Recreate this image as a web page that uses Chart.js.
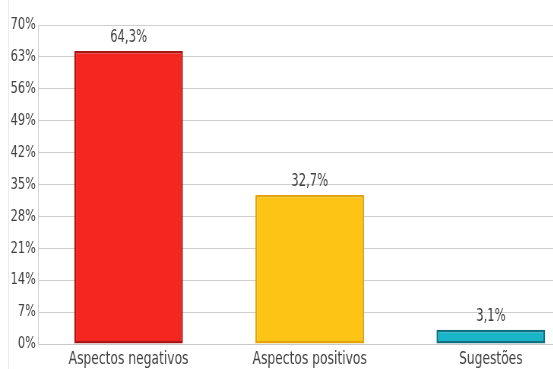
<!DOCTYPE html>
<html>
<head>
<meta charset="utf-8">
<script src="https://cdn.jsdelivr.net/npm/chart.js@4"></script>
<style>
    html, body { margin: 0; padding: 0; background: #fff; overflow: hidden; }
    #wrap { position: relative; width: 553px; height: 369px; overflow: hidden; }
    #edge { position: absolute; left: 8px; top: 0; width: 1px; height: 369px; background: #ececec; }
    /* the reference text is horizontally condensed, so the whole canvas is squeezed */
    #chart { transform: scaleX(0.76); transform-origin: 0 0; }
</style>
</head>
<body>
<div id="wrap"><div id="edge"></div><canvas id="chart" width="765" height="369"></canvas></div>
<script>
const categories = ['Aspectos negativos', 'Aspectos positivos', 'Sugestões'];
const values = [64.3, 32.7, 3.1];
const valueLabels = ['64,3%', '32,7%', '3,1%'];
const fillColors = ['#F5261F', '#FDC416', '#1AB4C9'];
const borderColors = ['#A81515', '#E3A50C', '#10707F'];

const FONT = "'DejaVu Sans Condensed', 'DejaVu Sans', sans-serif";
const TEXT = '#3f3f3f';

// draws the value labels over the bars
const valueLabelPlugin = {
    id: 'valueLabels',
    afterDatasetsDraw(chart) {
        const ctx = chart.ctx;
        const meta = chart.getDatasetMeta(0);
        ctx.save();
        ctx.font = '17px ' + FONT;
        ctx.fillStyle = TEXT;
        ctx.textAlign = 'center';
        ctx.textBaseline = 'bottom';
        meta.data.forEach((bar, i) => {
            ctx.fillText(valueLabels[i], bar.x, bar.y - 5);
        });
        ctx.restore();
    }
};

new Chart(document.getElementById('chart').getContext('2d'), {
    type: 'bar',
    data: {
        labels: categories,
        datasets: [{
            data: values,
            backgroundColor: fillColors,
            borderColor: borderColors,
            borderWidth: 2.4,
            borderSkipped: false,
            categoryPercentage: 1,
            barPercentage: 0.6
        }]
    },
    options: {
        responsive: false,
        animation: false,
        devicePixelRatio: 1,
        layout: { padding: { top: 25, right: 0, bottom: 0, left: 0 } },
        plugins: { legend: { display: false }, tooltip: { enabled: false } },
        scales: {
            x: {
                grid: { display: false, drawTicks: false },
                border: { color: '#c8c8c8' },
                ticks: { color: TEXT, font: { family: FONT, size: 18 }, padding: 5, maxRotation: 0 },
                afterFit(scale) { scale.height = 25; }
            },
            y: {
                min: 0,
                max: 70,
                grid: { color: '#cfcfcf', drawTicks: false },
                border: { color: '#cfcfcf' },
                ticks: {
                    stepSize: 7,
                    color: TEXT,
                    padding: 3,
                    font: { family: FONT, size: 16.5 },
                    callback: v => v + '%'
                },
                afterFit(scale) { scale.width = 50; }
            }
        }
    },
    plugins: [valueLabelPlugin]
});
</script>
</body>
</html>
